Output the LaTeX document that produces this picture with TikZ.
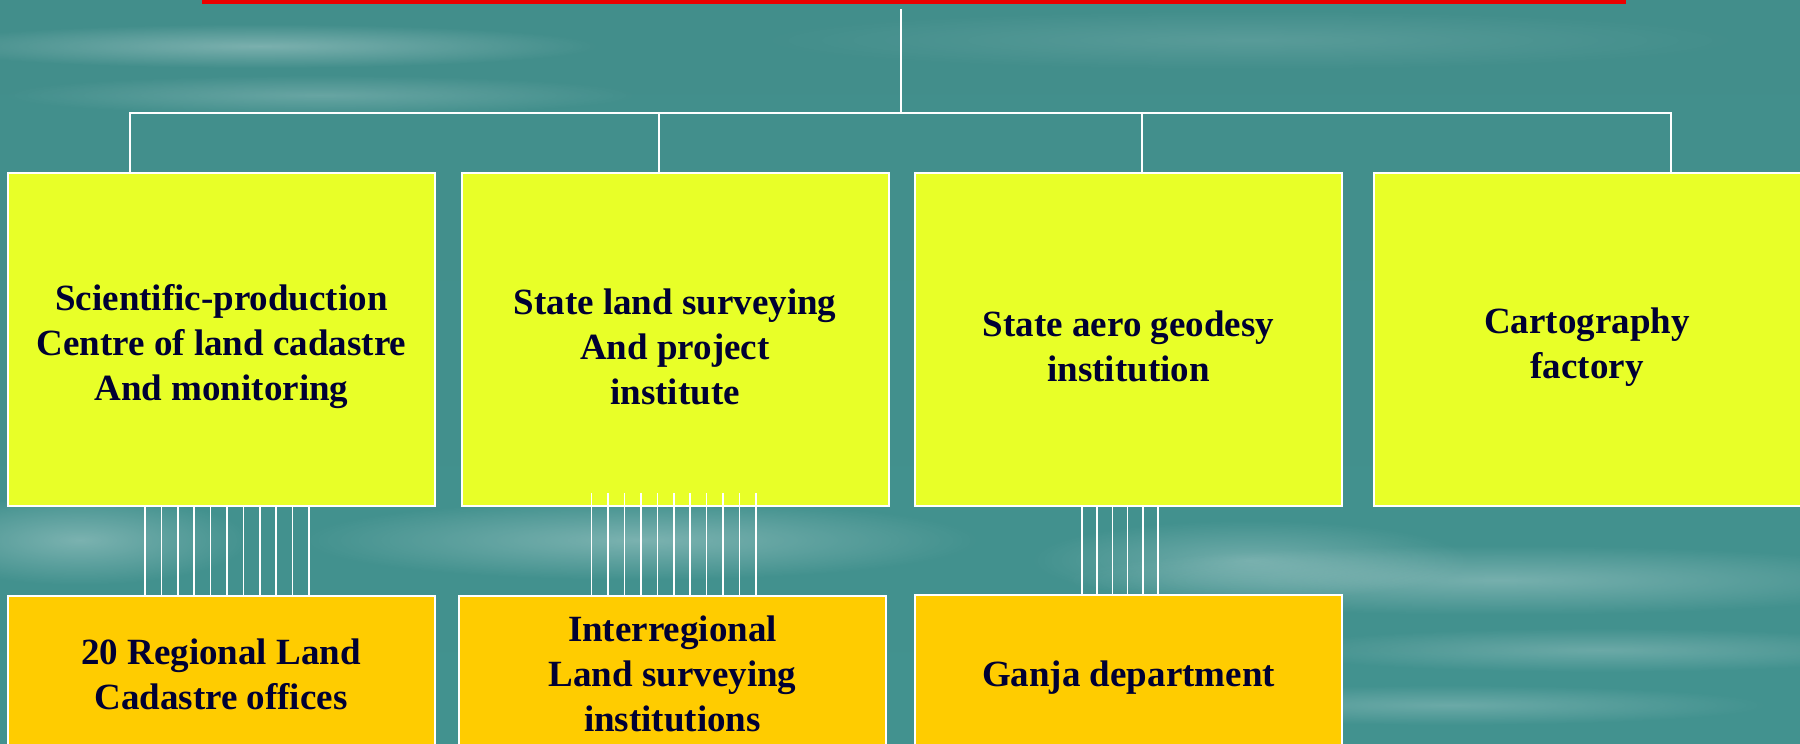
\documentclass[tikz,border=0pt]{standalone}
\usepackage{fontspec}
\setmainfont{Liberation Serif}
\usetikzlibrary{calc,fadings}

\definecolor{seateal}{RGB}{42,128,125}
\definecolor{seatop}{RGB}{66,142,139}
\definecolor{seabottom}{RGB}{66,146,143}
\definecolor{unitlime}{RGB}{232,255,40}
\definecolor{officegold}{RGB}{255,204,0}
\definecolor{navytext}{RGB}{0,0,51}
\definecolor{barred}{RGB}{235,0,0}

\newcommand{\topgap}[1]{\rule{0pt}{#1}}

\tikzfading[name=fuzzy, inner color=transparent!0, outer color=transparent!100]

\tikzset{
  boxbase/.style={draw=white, line width=1pt, inner sep=0pt, minimum width=213.5pt,
    align=center, text=navytext, font=\bfseries\fontsize{18.5}{22.5}\selectfont},
  unitbox/.style={boxbase, fill=unitlime, minimum height=166.5pt},
  officebox/.style={boxbase, fill=officegold, minimum height=78pt},
  link/.style={draw=white, line width=1pt},
  wire/.style={draw=white, line width=0.8pt},
  streak/.style={fill=white, path fading=fuzzy}
}

\begin{document}
\begin{tikzpicture}[x=0.5pt, y=-0.5pt]
        \useasboundingbox (0,0) rectangle (1800,744);
        \clip (0,0) rectangle (1800,744);
        % sea background
        \shade[top color=seatop, middle color=seateal, bottom color=seabottom] (0,0) rectangle (1800,744);
        \fill[streak, opacity=0.30] (260,46) ellipse (340 and 22);
        \fill[streak, opacity=0.20] (320,95) ellipse (320 and 20);
        \fill[streak, opacity=0.12] (1250,40) ellipse (500 and 30);
        \fill[streak, opacity=0.30] (80,540) ellipse (170 and 45);
        \fill[streak, opacity=0.30] (640,540) ellipse (340 and 40);
        \fill[streak, opacity=0.28] (1500,580) ellipse (440 and 35);
        \fill[streak, opacity=0.22] (1600,650) ellipse (330 and 22);
        \fill[streak, opacity=0.22] (1450,705) ellipse (320 and 20);
        \fill[streak, opacity=0.25] (1250,560) ellipse (220 and 40);
        % title bar
        \node[fill=barred, inner sep=0pt, minimum width=712pt, minimum height=12pt] (head) at (914,-8) {};
        \coordinate (hub) at (901,113);
        % units
        \node[unitbox] (sci) at (221.5,339.5) {\topgap{20pt}Scientific-production\\Centre of land cadastre\\And monitoring};
        \node[unitbox] (state) at (675,339.5) {\topgap{20pt}State land surveying\\And project\\institute};
        \node[unitbox] (aero) at (1128.5,339.5) {\topgap{20pt}State aero geodesy\\institution};
        \node[unitbox] (carto) at (1587,339.5) {\topgap{20pt}Cartography\\factory};
        % offices
        \node[officebox] (reg) at (221,674) {20 Regional Land\\Cadastre offices};
        \node[officebox] (inst) at (672.5,674) {Interregional\\Land surveying\\institutions};
        \node[officebox] (ganja) at (1128.5,673) {\topgap{17.5pt}Ganja department};
        % tree
        \draw[link] ([shift={(-6.5pt,-2.5pt)}]head.south) -- (hub);
        \draw[link] (hub) -| ([xshift=-45.75pt]sci.north);
        \draw[link] (hub) -| ([xshift=-8pt]state.north);
        \draw[link] (hub) -| ([xshift=6.75pt]aero.north);
        \draw[link] (hub) -| ([xshift=42pt]carto.north);
        % bundles
        \foreach \i in {0,...,10}
          \draw[wire] ($(sci.south)+(-76.5+16.4*\i,0)$) -- ($(sci.south |- reg.north)+(-76.5+16.4*\i,0)$);
        \foreach \i in {0,...,10}
          \draw[wire] ($(state.south)+(-83.5+16.45*\i,-14)$) -- ($(state.south |- inst.north)+(-83.5+16.45*\i,0)$);
        \foreach \i in {0,...,5}
          \draw[wire] ($(aero.south)+(-46.5+15.2*\i,0)$) -- ($(aero.south |- ganja.north)+(-46.5+15.2*\i,0)$);
\end{tikzpicture}
\end{document}
